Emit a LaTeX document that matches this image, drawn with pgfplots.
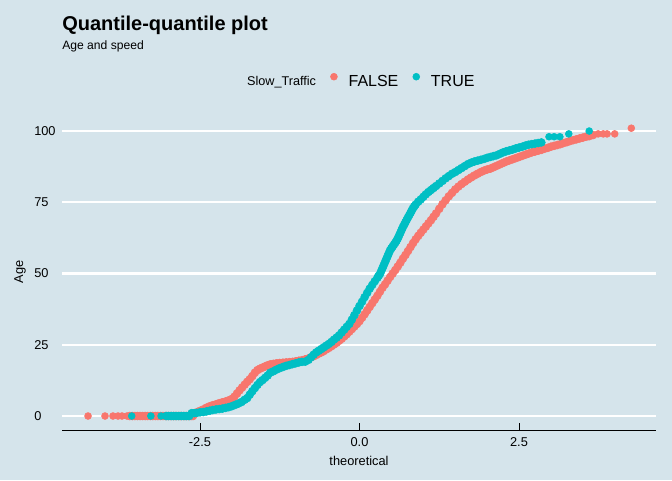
\documentclass[border=0pt]{standalone}
\usepackage{pgfplots}
\pgfplotsset{compat=1.18}
\usepackage{fontspec}
\setmainfont{Liberation Sans}
\definecolor{bgcol}{HTML}{D5E4EB}
\definecolor{coral}{HTML}{F8766D}
\definecolor{tealc}{HTML}{00BFC4}
\begin{document}
\begin{tikzpicture}
\useasboundingbox (0,0) rectangle (504pt,360pt);
\fill[bgcol] (0,0) rectangle (504pt,360pt);
\node[anchor=base west, inner sep=0pt, font=\bfseries\fontsize{15}{18}\selectfont] at (46.5pt,337.5pt) {Quantile-quantile plot};
\node[anchor=base west, inner sep=0pt, font=\fontsize{9.1}{11}\selectfont] at (46.5pt,322.9pt) {Age and speed};
\begin{axis}[
  at={(46.5pt,37.2pt)}, anchor=south west,
  scale only axis, width=445.5pt, height=237.45pt,
  xmin=-4.663, xmax=4.647, ymin=-5.05, ymax=106.05,
  axis x line*=bottom, axis y line*=left,
  x axis line style={black, line width=0.8pt},
  y axis line style={draw=none},
  xtick={-2.5,0,2.5}, xticklabels={-2.5,0.0,2.5},
  ytick={0,25,50,75,100}, yticklabels={0,25,50,75,100},
  tick align=inside, major tick length=5.25pt,
  xtick style={black, line width=0.75pt},
  ytick style={draw=none},
  ymajorgrids, grid style={white, line width=1.6pt},
  xticklabel style={anchor=base, inner sep=0pt, yshift=-12.2pt, font=\fontsize{9.6}{11}\selectfont},
  yticklabel style={anchor=west, inner sep=0pt, xshift=-21pt, font=\fontsize{9.6}{11}\selectfont},
  xlabel={theoretical}, ylabel={Age},
  xlabel style={at={(axis description cs:0.5,-0.1093)}, anchor=base, inner sep=0pt, font=\fontsize{9.6}{11}\selectfont},
  ylabel style={at={(axis description cs:-0.0707,0.5)}, anchor=center, inner sep=0pt, font=\fontsize{9.6}{11}\selectfont},
  legend columns=-1,
  legend style={draw=none, fill=none, inner sep=0pt, outer sep=0pt,
    at={(axis description cs:0.2932,1.104)}, anchor=west,
    nodes={inner sep=0pt},
    /tikz/every odd column/.style={column sep=8.2pt},
    /tikz/every even column/.style={column sep=10.6pt}},
  legend image code/.code={\fill[#1] (0pt,4.1pt) circle (2.6pt);},
]
\addlegendimage{empty legend}
\addlegendentry{\fontsize{9.5}{11}\selectfont Slow\_Traffic}
% FALSE: dense band
\addplot[only marks, mark=*, mark size=3.0pt, color=coral, mark options={draw=none, fill=coral}] coordinates {
(-3.60,0)(-3.56,0)(-3.52,0)(-3.48,0)(-3.44,0)(-3.40,0)(-3.36,0)(-3.32,0)(-3.28,0)(-3.24,0)(-3.20,0)(-3.16,0)(-3.12,0)(-3.08,0)(-3.04,0)(-3.00,0)(-2.96,0)(-2.92,0)(-2.88,0)(-2.84,0)(-2.80,0)(-2.76,0)(-2.72,0)(-2.68,0)(-2.64,0)(-2.61,0)
(-2.58,1)(-2.54,1.4)(-2.50,1.8)(-2.45,2.3)(-2.40,2.9)(-2.35,3.4)(-2.30,3.8)(-2.25,4.1)(-2.20,4.5)(-2.15,4.8)(-2.10,5.1)(-2.05,5.5)(-2.00,6.0)
(-1.96,6.8)(-1.92,7.9)(-1.88,9.0)(-1.84,10.0)(-1.80,11.0)(-1.76,12.0)(-1.72,12.9)(-1.68,14.0)(-1.64,15.2)(-1.60,16.1)(-1.56,16.6)(-1.52,17.0)(-1.48,17.4)(-1.44,17.8)(-1.40,18.1)
(-1.35,18.3)(-1.30,18.5)(-1.25,18.6)(-1.20,18.7)(-1.15,18.8)(-1.10,18.9)(-1.05,19.0)(-1.00,19.2)(-0.95,19.4)(-0.90,19.6)(-0.85,19.9)(-0.80,20.2)
(-0.76,20.6)(-0.72,21.0)(-0.68,21.4)(-0.64,21.9)(-0.60,22.3)(-0.56,22.8)(-0.52,23.4)(-0.48,23.9)(-0.44,24.5)(-0.40,25.1)(-0.36,25.7)(-0.32,26.4)(-0.28,27.1)(-0.24,27.9)(-0.20,28.7)(-0.16,29.6)(-0.12,30.5)(-0.08,31.4)(-0.04,32.3)
(0.00,33.3)(0.04,34.5)(0.08,35.7)(0.12,37.0)(0.16,38.3)(0.20,39.6)(0.24,40.9)(0.28,42.2)(0.32,43.6)(0.36,45.0)(0.40,46.2)(0.44,47.5)(0.48,48.8)(0.52,50.0)(0.56,51.2)(0.60,52.5)(0.64,53.8)(0.68,55.2)(0.72,56.5)(0.76,57.9)(0.80,59.3)(0.84,60.7)(0.88,62.0)(0.92,63.2)(0.96,64.3)
(1.00,65.4)(1.04,66.5)(1.08,67.6)(1.12,68.7)(1.16,69.9)(1.20,71.1)(1.25,72.7)(1.30,74.3)(1.35,75.7)(1.40,77.1)(1.45,78.3)(1.50,79.5)(1.55,80.5)(1.60,81.4)(1.65,82.2)(1.70,83.0)(1.75,83.7)(1.80,84.4)(1.85,85.0)(1.90,85.6)(1.95,86.1)
(2.00,86.5)(2.05,86.8)(2.10,87.3)(2.15,87.8)(2.20,88.3)(2.25,88.8)(2.30,89.3)(2.35,89.7)(2.40,90.1)(2.45,90.5)(2.50,90.9)(2.55,91.3)(2.60,91.7)(2.65,92.1)(2.70,92.5)(2.75,92.8)(2.80,93.1)(2.85,93.4)(2.90,93.8)(2.95,94.1)
(3.00,94.5)(3.05,94.8)(3.10,95.1)(3.15,95.4)(3.20,95.8)(3.25,96.1)(3.30,96.5)(3.35,96.8)(3.40,97.1)(3.45,97.4)(3.50,97.7)(3.55,98.0)(3.60,98.2)(3.66,98.6)
};
\addlegendentry{\fontsize{12}{14}\selectfont FALSE}
% FALSE: isolated tail points
\addplot[forget plot, only marks, mark=*, mark size=2.6pt, color=coral, mark options={draw=none, fill=coral}] coordinates {
(-4.255,0)(-3.989,0)(-3.864,0)(-3.785,0)(-3.723,0)(-3.644,0)
(3.74,99)(3.82,99)(3.88,99)(4.00,99)(4.26,101)
};
% TRUE: dense band
\addplot[only marks, mark=*, mark size=3.0pt, color=tealc, mark options={draw=none, fill=tealc}] coordinates {
(-3.03,0)(-2.99,0)(-2.95,0)(-2.91,0)(-2.87,0)(-2.83,0)(-2.79,0)(-2.75,0)(-2.71,0)(-2.67,0)
(-2.63,1)(-2.59,1)(-2.55,1.1)(-2.50,1.3)(-2.45,1.4)(-2.40,1.6)(-2.35,1.85)(-2.30,2.1)(-2.25,2.3)(-2.20,2.45)(-2.15,2.6)(-2.10,2.85)(-2.05,3.1)
(-2.00,3.45)(-1.95,3.9)(-1.90,4.35)(-1.85,4.9)(-1.80,5.7)(-1.76,6.3)(-1.72,7.5)(-1.68,8.7)(-1.64,9.8)(-1.60,10.9)(-1.56,11.9)(-1.52,12.6)(-1.48,13.4)(-1.44,14.2)(-1.40,15.2)
(-1.35,15.7)(-1.30,16.3)(-1.25,16.8)(-1.20,17.2)(-1.15,17.6)(-1.10,17.9)(-1.05,18.2)(-1.00,18.5)(-0.95,18.8)(-0.90,19.0)(-0.85,19.1)(-0.80,19.7)
(-0.76,20.6)(-0.72,21.5)(-0.68,22.3)(-0.64,22.9)(-0.60,23.5)(-0.56,24.1)(-0.52,24.7)(-0.48,25.3)(-0.44,26.0)(-0.40,26.8)(-0.36,27.5)(-0.32,28.3)(-0.28,29.3)(-0.24,30.3)(-0.20,31.3)(-0.16,32.3)(-0.12,33.8)(-0.08,35.4)(-0.04,37.0)
(0.00,38.6)(0.04,40.1)(0.08,41.7)(0.12,43.2)(0.16,44.7)(0.20,46.0)(0.24,47.3)(0.28,48.5)(0.30,49.2)(0.32,49.8)(0.34,50.85)(0.36,51.9)(0.38,52.95)(0.40,54.0)(0.42,55.05)(0.44,56.1)(0.46,57.15)(0.48,58.2)(0.50,58.85)(0.52,59.5)(0.54,60.15)(0.56,60.8)(0.58,61.5)(0.60,62.3)(0.62,63.3)(0.64,64.3)(0.66,65.3)(0.68,66.3)(0.70,67.15)(0.72,68.0)(0.74,68.85)(0.76,69.7)(0.78,70.5)(0.80,71.3)(0.82,72.15)(0.84,73.0)(0.86,73.6)(0.88,74.2)(0.92,75.2)(0.96,76.0)
(1.00,76.9)(1.04,77.8)(1.08,78.6)(1.12,79.3)(1.16,80.0)(1.20,80.7)(1.25,81.6)(1.30,82.5)(1.35,83.4)(1.40,84.2)(1.45,85.0)(1.50,85.6)(1.55,86.3)(1.60,87.0)(1.65,87.7)(1.70,88.4)(1.75,88.9)(1.80,89.3)(1.85,89.6)(1.90,89.9)(1.95,90.2)
(2.00,90.6)(2.05,90.9)(2.10,91.2)(2.15,91.5)(2.20,92.0)(2.25,92.5)(2.30,92.9)(2.35,93.2)(2.40,93.5)(2.45,93.9)(2.50,94.2)(2.55,94.5)(2.60,94.9)(2.65,95.2)(2.70,95.4)(2.75,95.6)(2.80,95.8)(2.85,96.0)
};
\addlegendentry{\fontsize{12}{14}\selectfont TRUE}
% TRUE: isolated tail points
\addplot[forget plot, only marks, mark=*, mark size=2.6pt, color=tealc, mark options={draw=none, fill=tealc}] coordinates {
(-3.57,0)(-3.27,0)(-3.11,0)
(2.97,98)(3.05,98)(3.14,98)(3.28,99)(3.60,100)
};
\end{axis}
\end{tikzpicture}
\end{document}
